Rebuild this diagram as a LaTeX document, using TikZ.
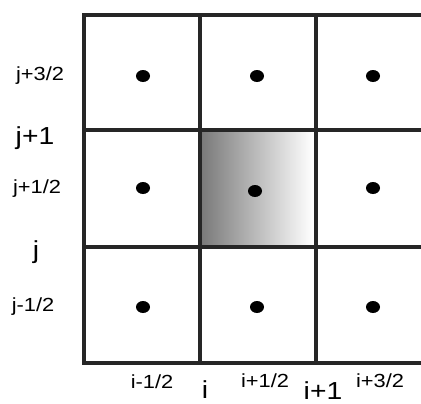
\documentclass[tikz,border=0pt]{standalone}
\usepackage{fontspec}
\setmainfont{Liberation Sans}
\usetikzlibrary{positioning}

\tikzset{
  gridline/.style={line width=2.2pt, black!85},
  halflabel/.style={inner sep=0pt, xscale=1.15, font=\fontsize{13.5}{15}\selectfont},
  intlabel/.style={inner sep=0pt, xscale=1.15, font=\fontsize{17.5}{19}\selectfont}
}

\begin{document}
\begin{tikzpicture}[x=0.025cm, y=-0.025cm]
  \useasboundingbox (0,0) rectangle (421,403);
  % --- shaded cell (i+1/2, j+1/2) ---
  \shade[left color=black!52, right color=white] (202,132) rectangle (313,245);
  % --- grid ---
  \begin{scope}
    \clip (0,0) rectangle (421,403);
    \draw[gridline] (84,15) rectangle (440,363);
    \foreach \x in {200,316} \draw[gridline] (\x,15) -- (\x,363);
    \foreach \y in {130,247} \draw[gridline] (84,\y) -- (440,\y);
  \end{scope}
  % --- cell centres ---
  \foreach \x in {143,257,373}
    \foreach \y in {76,307} \fill[black] (\x,\y) ellipse [x radius=7, y radius=6];
  \foreach \x/\y in {143/188,255/191,373/188} \fill[black] (\x,\y) ellipse [x radius=7, y radius=6];
  % --- j labels ---
  \node[halflabel] (j32) at (40,76)  {j+3/2};
  \node[intlabel]  (j1)  at (35,138) {j+1};
  \node[halflabel] (j12) at (37,189) {j+1/2};
  \node[intlabel]  (j0)  at (36,252) {j};
  \node[halflabel] (jm12) at (33,307) {j-1/2};
  % --- i labels ---
  \node[halflabel] (im12) at (152,382) {i-1/2};
  \node[intlabel]  (i0)  at (205,390) {i};
  \node[halflabel] (i12) at (265,381) {i+1/2};
  \node[intlabel]  (i1)  at (323,391) {i+1};
  \node[halflabel] (i32) at (380,381) {i+3/2};
\end{tikzpicture}
\end{document}
